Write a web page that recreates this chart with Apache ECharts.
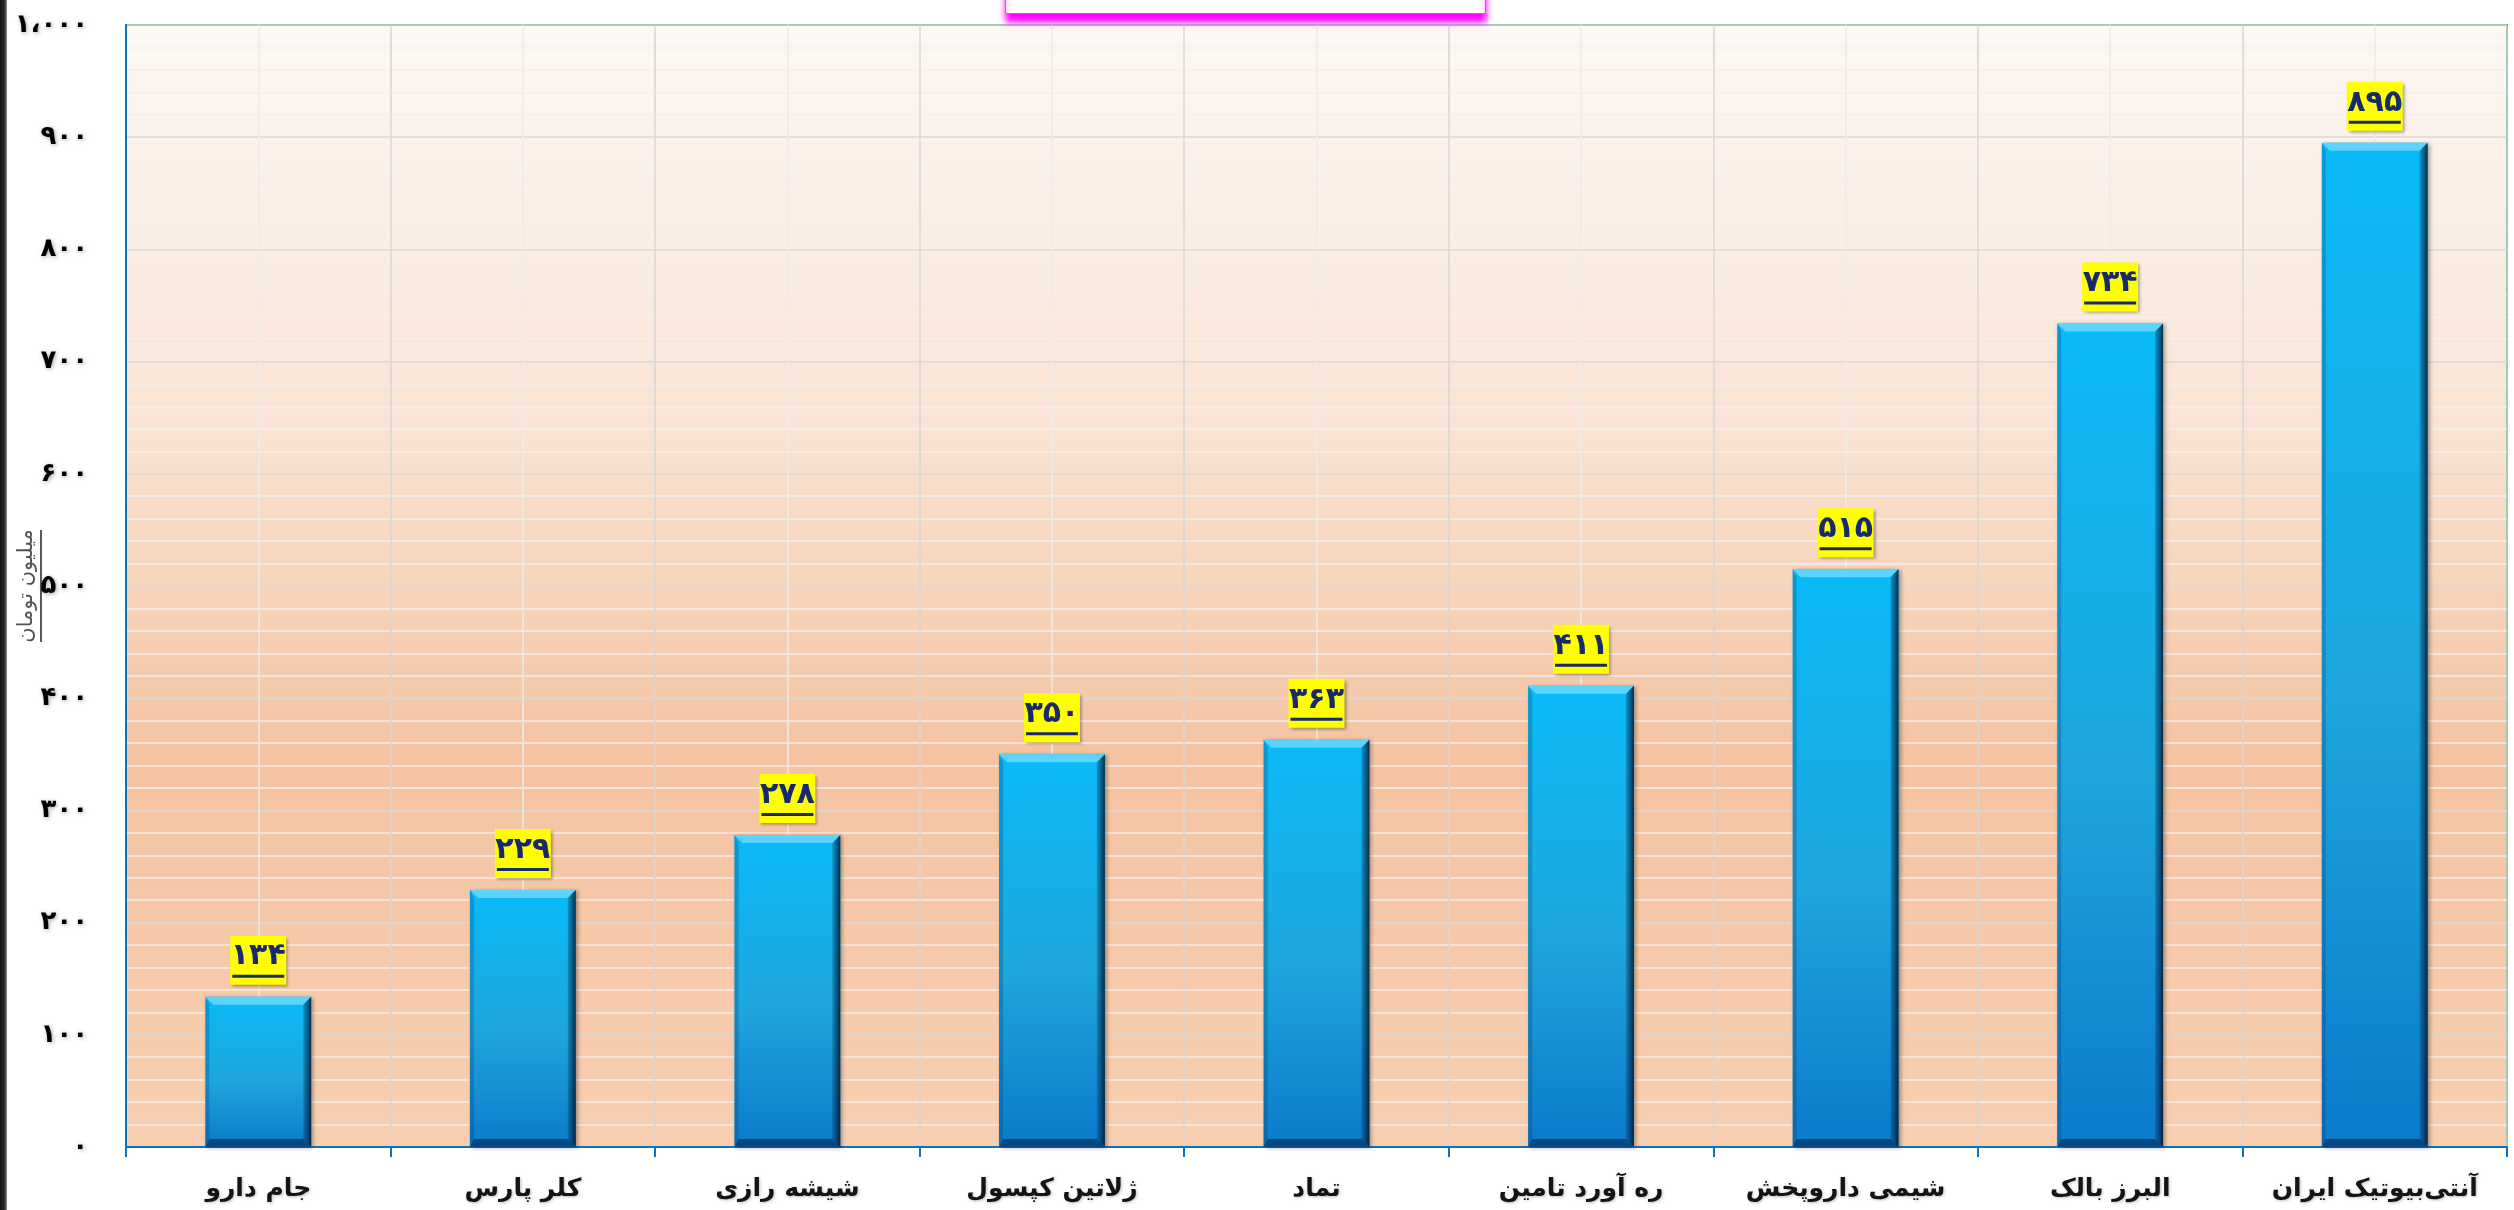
<!DOCTYPE html>
<html>
<head>
<meta charset="utf-8">
<title>chart</title>
<script src="https://cdn.jsdelivr.net/npm/echarts@6/dist/echarts.min.js"></script>
<style>
  html, body { margin: 0; padding: 0; background: #fff; }
  #main { width: 2514px; height: 1210px; }
</style>
</head>
<body>
<div id="main"></div>
<script>
// data
const companies = [
  "جام دارو",
  "کلر پارس",
  "شیشه رازی",
  "ژلاتین کپسول",
  "تماد",
  "ره آورد تامین",
  "شیمی داروپخش",
  "البرز بالک",
  "آنتی‌بیوتیک ایران",
];
const amounts = [134, 229, 278, 350, 363, 411, 515, 734, 895];
const yTickLabels = ["۰", "۱۰۰", "۲۰۰", "۳۰۰", "۴۰۰", "۵۰۰", "۶۰۰", "۷۰۰", "۸۰۰", "۹۰۰", "۱،۰۰۰"];
const yAxisName = "میلیون تومان";

const FONT = "DejaVu Sans";
const NAVY = "#172a6e";

function toFa(n) {
  return String(n).replace(/\d/g, (d) => "۰۱۲۳۴۵۶۷۸۹"[d]);
}

// bevel overlay on top of each bar (light top edge, dark right/bottom)
function renderBevel(params, api) {
  const idx = api.value(0);
  const val = api.value(1);
  const top = api.coord([idx, val]);
  const base = api.coord([idx, 0]);
  const w = api.size([1, 0])[0] * 0.4;
  const l = top[0] - w / 2;
  const r = top[0] + w / 2;
  const t = top[1];
  const b = base[1];
  const d = 8;
  return {
    type: "group",
    children: [
      {
        type: "polygon",
        shape: { points: [[l, t], [r, t], [r - d, t + d], [l + d, t + d]] },
        style: { fill: "rgba(120,220,255,0.75)" },
      },
      {
        type: "polygon",
        shape: { points: [[l, t], [l + d * 0.5, t + d], [l + d * 0.5, b - d], [l, b]] },
        style: { fill: "rgba(0,50,100,0.25)" },
      },
      {
        type: "polygon",
        shape: { points: [[r, t], [r, b], [r - d, b - d], [r - d, t + d]] },
        style: {
          fill: new echarts.graphic.LinearGradient(0, 0, 1, 0, [
            { offset: 0, color: "rgba(0,40,80,0.25)" },
            { offset: 1, color: "rgba(0,20,40,0.85)" },
          ]),
        },
      },
      {
        type: "polygon",
        shape: { points: [[l, b], [r, b], [r - d, b - d], [l + d * 0.5, b - d]] },
        style: { fill: "rgba(0,30,70,0.55)" },
      },
    ],
  };
}

let chartInstance = echarts.init(document.getElementById("main"));

const option = {
  backgroundColor: "#ffffff",
  textStyle: { fontFamily: FONT },
  animation: false,
  grid: {
    left: 126,
    right: 7,
    top: 25,
    bottom: 63,
    outerBoundsMode: "none",
    containLabel: false,
    show: true,
    borderColor: "#00b050",
    borderWidth: 2,
    backgroundColor: new echarts.graphic.LinearGradient(0, 0, 0, 1, [
      { offset: 0, color: "#fdf8f4" },
      { offset: 0.35, color: "#f9e4d5" },
      { offset: 0.65, color: "#f4c3a1" },
      { offset: 1, color: "#f8cfb1" },
    ]),
  },
  xAxis: [
    {
      type: "category",
      data: companies,
      axisLine: { show: true, lineStyle: { color: "#0a74c4", width: 2 } },
      axisTick: { show: true, length: 10, interval: 0, lineStyle: { color: "#0a74c4", width: 2 } },
      splitLine: { show: false },
      axisLabel: {
        interval: 0,
        margin: 30,
        color: "#141414",
        fontSize: 25,
        fontWeight: "bold",
        fontFamily: FONT,
        textShadowColor: "rgba(0,0,0,0.25)",
        textShadowBlur: 3,
        textShadowOffsetX: 1,
        textShadowOffsetY: 1,
      },
    },
    {
      // hidden helper axis for the vertical grid lines (edges + centres)
      type: "value",
      min: 0,
      max: 9,
      interval: 1,
      show: true,
      position: "top",
      axisLine: { show: false },
      axisTick: { show: false },
      axisLabel: { show: false },
      minorTick: { show: false, splitNumber: 2 },
      splitLine: { show: true, lineStyle: { color: "#d6d6d6", width: 1.5 } },
      minorSplitLine: { show: true, lineStyle: { color: "#ececec", width: 1.5 } },
    },
  ],
  yAxis: {
    type: "value",
    min: 0,
    max: 1000,
    interval: 100,
    name: "{t|" + yAxisName + "}\n{u|}",
    nameLocation: "middle",
    nameRotate: 90,
    nameGap: 84,
    nameMoveOverlap: false,
    nameTextStyle: {
      align: "center",
      rich: {
        t: { fontSize: 21, color: "#555555", fontFamily: FONT, lineHeight: 26, width: 112, align: "center" },
        u: { width: 112, height: 2, lineHeight: 2, backgroundColor: "#595959" },
      },
    },
    axisLine: { show: true, lineStyle: { color: "#0a74c4", width: 2 } },
    axisTick: { show: false },
    axisLabel: {
      margin: 38,
      color: "#000",
      fontSize: 26,
      fontWeight: "bold",
      fontFamily: FONT,
      padding: [0, 0, 14, 0],
      textShadowColor: "rgba(0,0,0,0.35)",
      textShadowBlur: 4,
      textShadowOffsetX: 1,
      textShadowOffsetY: 1,
      formatter: (v) => yTickLabels[Math.round(v / 100)],
    },
    splitLine: { show: true, lineStyle: { color: "#d9d9d9", width: 1.5 } },
    minorTick: { show: false, splitNumber: 5 },
    minorSplitLine: { show: true, lineStyle: { color: "rgba(242,240,238,0.95)", width: 1.5 } },
  },
  series: [
    {
      name: "amount",
      type: "bar",
      data: amounts,
      barWidth: "40%",
      itemStyle: {
        color: new echarts.graphic.LinearGradient(0, 0, 0, 1, [
          { offset: 0, color: "#0abaf8" },
          { offset: 0.55, color: "#1ea6dd" },
          { offset: 1, color: "#0b7acb" },
        ]),
        shadowColor: "rgba(0,0,0,0.35)",
        shadowBlur: 4,
        shadowOffsetX: 2,
        shadowOffsetY: 1,
      },
      label: {
        show: true,
        position: "top",
        distance: 12,
        backgroundColor: "#ffff00",
        padding: [3, 2, 7, 2],
        shadowColor: "rgba(0,0,0,0.35)",
        shadowBlur: 3,
        shadowOffsetX: 2,
        shadowOffsetY: 2,
        formatter: (p) => "{v|" + toFa(p.value) + "}\n{u|}",
        rich: {
          v: { fontSize: 30, fontWeight: "bold", color: NAVY, fontFamily: FONT, lineHeight: 36, width: 52, align: "center" },
          u: { width: 52, height: 3, lineHeight: 3, backgroundColor: NAVY },
        },
      },
    },
    {
      name: "bevel",
      type: "custom",
      data: amounts.map((v, i) => [i, v]),
      renderItem: renderBevel,
      silent: true,
      z: 4,
    },
  ],
  graphic: [
    {
      // window edge on the far left
      type: "rect",
      left: 0,
      top: 0,
      shape: { width: 7, height: 1210 },
      style: {
        fill: new echarts.graphic.LinearGradient(0, 0, 1, 0, [
          { offset: 0, color: "#111" },
          { offset: 0.7, color: "#333" },
          { offset: 1, color: "#9a9a9a" },
        ]),
      },
      z: 100,
    },
    {
      // bottom of the (cut off) title box
      type: "rect",
      left: 1005,
      top: -20,
      shape: { width: 480, height: 33 },
      style: {
        fill: "#ffffff",
        stroke: "#ff33ff",
        lineWidth: 1,
        shadowColor: "#ff00ff",
        shadowBlur: 6,
        shadowOffsetY: 8,
      },
      z: 100,
    },
  ],
};

chartInstance.setOption(option);

window.addEventListener("resize", () => {
  chartInstance.resize();
});
</script>
</body>
</html>
